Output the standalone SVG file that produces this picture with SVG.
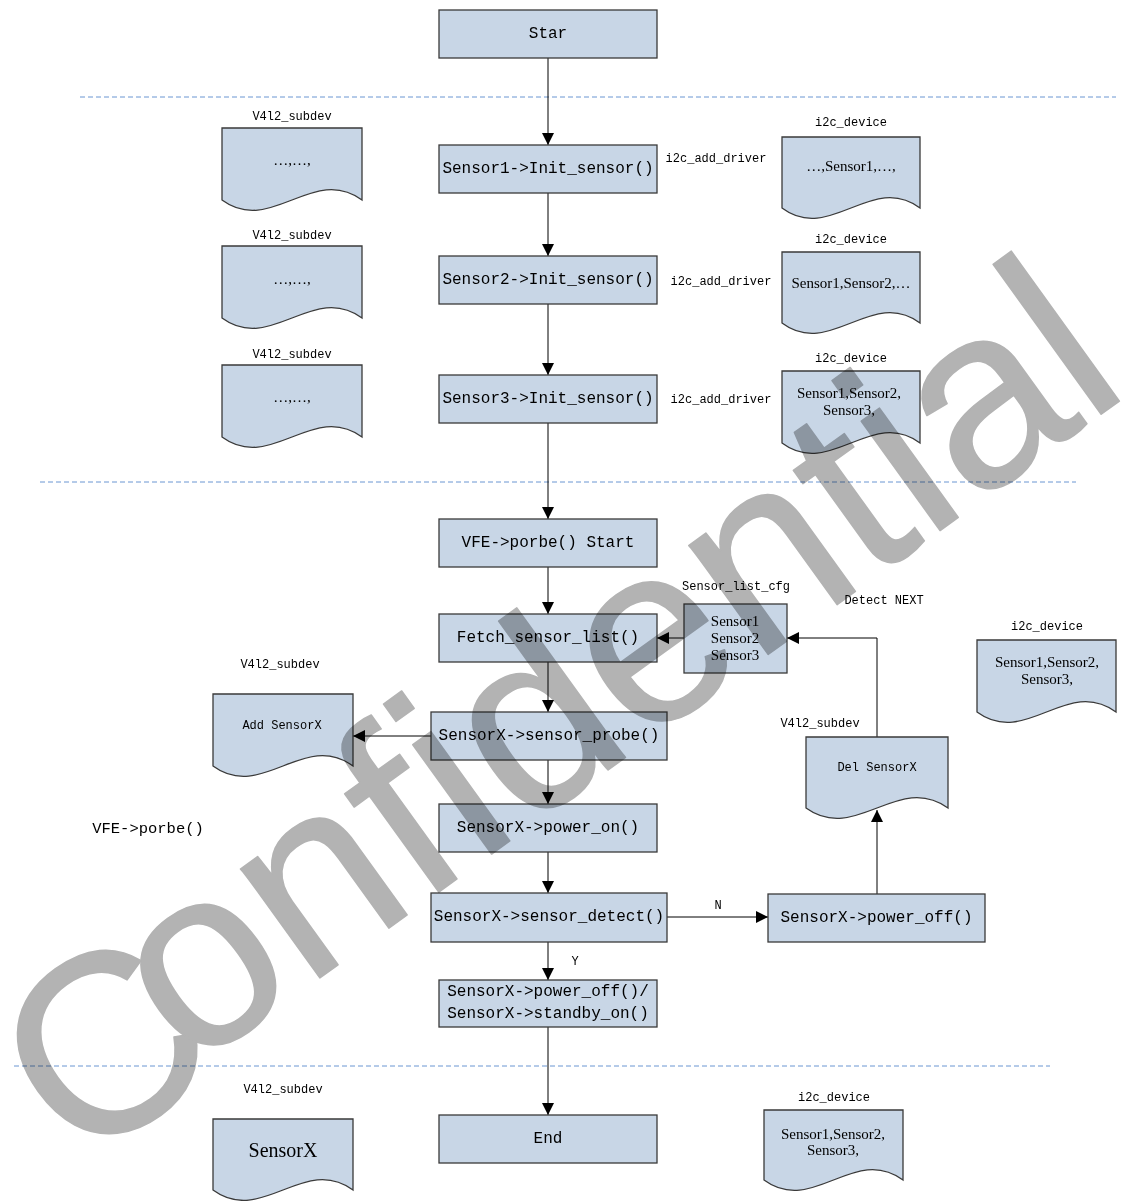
<svg xmlns="http://www.w3.org/2000/svg" width="1126" height="1201" viewBox="0 0 1126 1201">
<style>
.box{fill:#c8d6e6;stroke:#3a3a3a;stroke-width:1.3}
.doc{fill:#c8d6e6;stroke:#3a3a3a;stroke-width:1.3}
.bt{font-family:"Liberation Mono","DejaVu Sans Mono",monospace;font-size:16px;fill:#000;text-anchor:middle;dominant-baseline:central}
.lb{font-family:"Liberation Mono","DejaVu Sans Mono",monospace;font-size:12px;fill:#000;text-anchor:middle;dominant-baseline:central}
.dt{font-family:"Liberation Serif","Times New Roman",serif;font-size:15px;fill:#000;text-anchor:middle;dominant-baseline:central}
.ln{fill:none;stroke:#000;stroke-width:1}
.dash{fill:none;stroke:#6a96d2;stroke-width:1;stroke-dasharray:5 3}
.wm{font-family:"Liberation Sans",Arial,sans-serif;font-size:255px;fill:#b3b3b3;stroke:#b3b3b3;stroke-width:1.5;stroke-linejoin:round;mix-blend-mode:multiply}
</style>
<defs>
<marker id="ah" markerUnits="userSpaceOnUse" markerWidth="12" markerHeight="12" refX="12" refY="6" orient="auto">
<path d="M0,0 L12,6 L0,12 Z" fill="#000"/>
</marker>
</defs>
<rect x="0" y="0" width="1126" height="1201" fill="#fff"/>

<g id="separators">
<line class="dash" x1="80" y1="97" x2="1116" y2="97"/>
<line class="dash" x1="40" y1="482" x2="1076" y2="482"/>
<line class="dash" x1="14" y1="1066" x2="1050" y2="1066"/>
</g>

<g id="connectors">
<line class="ln" x1="548" y1="58" x2="548" y2="145" marker-end="url(#ah)"/>
<line class="ln" x1="548" y1="193" x2="548" y2="256" marker-end="url(#ah)"/>
<line class="ln" x1="548" y1="304" x2="548" y2="375" marker-end="url(#ah)"/>
<line class="ln" x1="548" y1="423" x2="548" y2="519" marker-end="url(#ah)"/>
<line class="ln" x1="548" y1="567" x2="548" y2="614" marker-end="url(#ah)"/>
<line class="ln" x1="548" y1="662" x2="548" y2="712" marker-end="url(#ah)"/>
<line class="ln" x1="548" y1="760" x2="548" y2="804" marker-end="url(#ah)"/>
<line class="ln" x1="548" y1="852" x2="548" y2="893" marker-end="url(#ah)"/>
<line class="ln" x1="548" y1="942" x2="548" y2="980" marker-end="url(#ah)"/>
<line class="ln" x1="548" y1="1027" x2="548" y2="1115" marker-end="url(#ah)"/>
<line class="ln" x1="684" y1="638" x2="657" y2="638" marker-end="url(#ah)"/>
<polyline class="ln" points="877,737 877,638 787,638" marker-end="url(#ah)"/>
<line class="ln" x1="877" y1="894" x2="877" y2="810" marker-end="url(#ah)"/>
<line class="ln" x1="667" y1="917" x2="768" y2="917" marker-end="url(#ah)"/>
<line class="ln" x1="431" y1="736" x2="353" y2="736" marker-end="url(#ah)"/>
<text class="lb" x="718" y="906">N</text>
<text class="lb" x="575" y="962">Y</text>
<text class="lb" x="884" y="601">Detect NEXT</text>
</g>

<g id="n-star"><rect class="box" x="439" y="10" width="218" height="48"/><text class="bt" x="548" y="34">Star</text></g>
<g id="n-s1"><rect class="box" x="439" y="145" width="218" height="48"/><text class="bt" x="548" y="169">Sensor1-&gt;Init_sensor()</text></g>
<g id="n-s2"><rect class="box" x="439" y="256" width="218" height="48"/><text class="bt" x="548" y="280">Sensor2-&gt;Init_sensor()</text></g>
<g id="n-s3"><rect class="box" x="439" y="375" width="218" height="48"/><text class="bt" x="548" y="399">Sensor3-&gt;Init_sensor()</text></g>
<g id="n-vfe"><rect class="box" x="439" y="519" width="218" height="48"/><text class="bt" x="548" y="543">VFE-&gt;porbe() Start</text></g>
<g id="n-fetch"><rect class="box" x="439" y="614" width="218" height="48"/><text class="bt" x="548" y="638">Fetch_sensor_list()</text></g>
<g id="n-probe"><rect class="box" x="431" y="712" width="236" height="48"/><text class="bt" x="549" y="736">SensorX-&gt;sensor_probe()</text></g>
<g id="n-pon"><rect class="box" x="439" y="804" width="218" height="48"/><text class="bt" x="548" y="828">SensorX-&gt;power_on()</text></g>
<g id="n-detect"><rect class="box" x="431" y="893" width="236" height="49"/><text class="bt" x="549" y="917">SensorX-&gt;sensor_detect()</text></g>
<g id="n-poff"><rect class="box" x="768" y="894" width="217" height="48"/><text class="bt" x="876.5" y="918">SensorX-&gt;power_off()</text></g>
<g id="n-standby"><rect class="box" x="439" y="980" width="218" height="47"/><text class="bt" x="548" y="992">SensorX-&gt;power_off()/</text><text class="bt" x="548" y="1014">SensorX-&gt;standby_on()</text></g>
<g id="n-end"><rect class="box" x="439" y="1115" width="218" height="48"/><text class="bt" x="548" y="1139">End</text></g>
<g id="n-cfg"><rect class="box" x="684" y="604" width="103" height="69"/>
<text class="dt" x="735" y="621">Sensor1</text><text class="dt" x="735" y="638">Sensor2</text><text class="dt" x="735" y="655">Sensor3</text>
<text class="lb" x="736" y="587">Sensor_list_cfg</text></g>

<g id="d-v1"><path class="doc" d="M222,128 H362 V200 C313,164 271,236 222,200 Z"/><text class="dt" x="292" y="160">…,…,</text><text class="lb" x="292" y="117">V4l2_subdev</text></g>
<g id="d-v2"><path class="doc" d="M222,246 H362 V318 C313,282 271,354 222,318 Z"/><text class="dt" x="292" y="279">…,…,</text><text class="lb" x="292" y="236">V4l2_subdev</text></g>
<g id="d-v3"><path class="doc" d="M222,365 H362 V437 C313,401 271,473 222,437 Z"/><text class="dt" x="292" y="397">…,…,</text><text class="lb" x="292" y="355">V4l2_subdev</text></g>

<g id="d-i1"><path class="doc" d="M782,137 H920 V208 C872,172 830,244 782,208 Z"/><text class="dt" x="851" y="166">…,Sensor1,…,</text><text class="lb" x="851" y="123">i2c_device</text><text class="lb" x="716" y="159">i2c_add_driver</text></g>
<g id="d-i2"><path class="doc" d="M782,252 H920 V323 C872,287 830,359 782,323 Z"/><text class="dt" x="851" y="283">Sensor1,Sensor2,…</text><text class="lb" x="851" y="240">i2c_device</text><text class="lb" x="721" y="282">i2c_add_driver</text></g>
<g id="d-i3"><path class="doc" d="M782,371 H920 V443 C872,407 830,479 782,443 Z"/><text class="dt" x="849" y="393">Sensor1,Sensor2,</text><text class="dt" x="849" y="410">Sensor3,</text><text class="lb" x="851" y="359">i2c_device</text><text class="lb" x="721" y="400">i2c_add_driver</text></g>

<g id="d-i4"><path class="doc" d="M977,640 H1116 V712 C1067,676 1026,748 977,712 Z"/><text class="dt" x="1047" y="662">Sensor1,Sensor2,</text><text class="dt" x="1047" y="679">Sensor3,</text><text class="lb" x="1047" y="627">i2c_device</text></g>

<g id="d-add"><path class="doc" d="M213,694 H353 V766 C304,730 262,802 213,766 Z"/><text class="lb" x="282" y="726">Add SensorX</text><text class="lb" x="280" y="665">V4l2_subdev</text></g>
<g id="d-del"><path class="doc" d="M806,737 H948 V808 C898,772 856,844 806,808 Z"/><text class="lb" x="877" y="768">Del SensorX</text><text class="lb" x="820" y="724">V4l2_subdev</text></g>

<g id="d-final-v"><path class="doc" d="M213,1119 H353 V1190 C304,1154 262,1226 213,1190 Z"/><text class="dt" x="283" y="1150" style="font-size:20px">SensorX</text><text class="lb" x="283" y="1090">V4l2_subdev</text></g>
<g id="d-final-i"><path class="doc" d="M764,1110 H903 V1180 C854,1144 813,1216 764,1180 Z"/><text class="dt" x="833" y="1134">Sensor1,Sensor2,</text><text class="dt" x="833" y="1150">Sensor3,</text><text class="lb" x="834" y="1098">i2c_device</text></g>

<g id="t-vfe"><text class="bt" x="148" y="829" style="font-size:15.5px">VFE-&gt;porbe()</text></g>

<g id="watermark"><text class="wm" x="41" y="1179" dx="36 -36" dy="16 -16" transform="rotate(-35.8 41 1179)">Confidential</text></g>
</svg>
